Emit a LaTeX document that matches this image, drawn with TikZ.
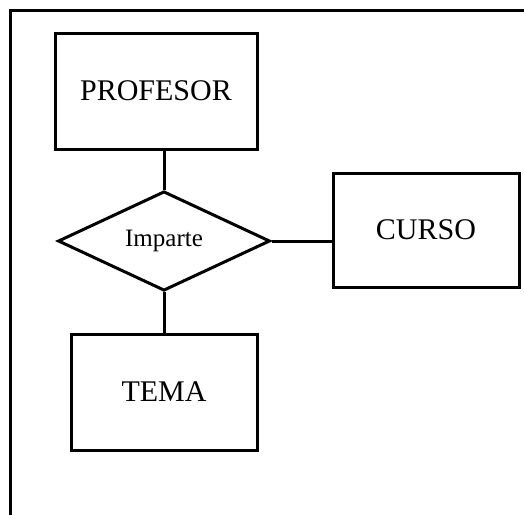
\documentclass[tikz,border=0pt]{standalone}
\usepackage{fontspec}
\setmainfont{Liberation Serif}
\usetikzlibrary{shapes.geometric}
\begin{document}
\begin{tikzpicture}[x=1pt,y=-1pt,
  entity/.style={draw, line width=3pt, rectangle, inner sep=0pt,
    font=\fontsize{30}{36}\selectfont},
  relation/.style={draw, line width=3pt, diamond, inner sep=0pt,
    font=\fontsize{25}{30}\selectfont},
  link/.style={line width=3pt}]
\useasboundingbox (0,0) rectangle (524,514);
% outer frame, running off the page to the right and bottom
\draw[line width=3pt] (10.5,530) -- (10.5,10.5) -- (540,10.5);

\node[entity, minimum width=202pt, minimum height=116pt] (prof) at (156,91) {PROFESOR};
\node[entity, minimum width=186pt, minimum height=114pt] (curso) at (426,230) {CURSO};
\node[entity, minimum width=186pt, minimum height=116pt] (tema) at (164,392) {TEMA};
\node[relation, minimum width=212pt, minimum height=88pt] (imp) at (164,241) {Imparte};

\draw[link] (imp.north) -- (imp.north |- prof.south);
\draw[link] (imp.south) -- (imp.south |- tema.north);
\draw[link] (imp.east) -- (imp.east -| curso.west);
\end{tikzpicture}
\end{document}
